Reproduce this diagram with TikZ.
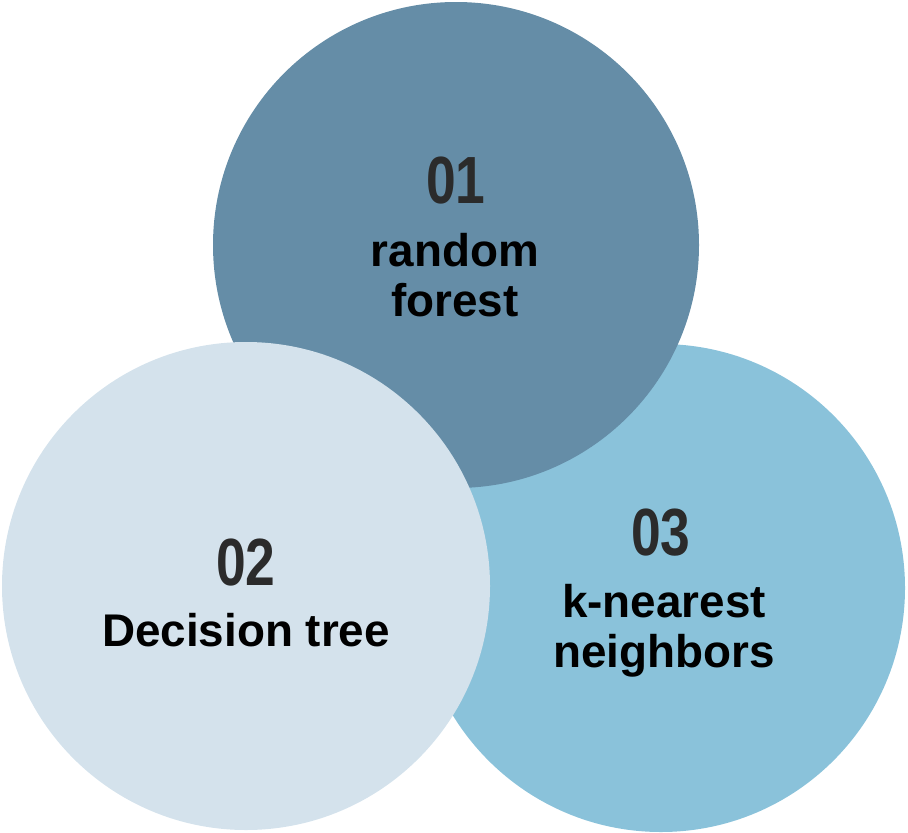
\documentclass[tikz,border=0pt]{standalone}
\usepackage{fontspec}
\usepackage{xcolor}
\setmainfont{Liberation Sans}
\newfontfamily\numfont[FakeStretch=0.8]{Liberation Sans}

\definecolor{forestblue}{HTML}{658DA7}
\definecolor{treeblue}{HTML}{D4E2EC}
\definecolor{knnblue}{HTML}{8AC2DA}
\definecolor{numgray}{HTML}{2B2B2B}

\tikzset{
  numtext/.style={anchor=base, inner sep=0pt, text=numgray,
    font=\numfont\bfseries\fontsize{67}{67}\selectfont},
  nametext/.style={anchor=base, inner sep=0pt, align=center, text=black,
    font=\bfseries\fontsize{46}{50}\selectfont}
}

\begin{document}
\begin{tikzpicture}[x=1bp,y=-1bp]
\useasboundingbox (0,0) rectangle (908,833);
% circles, back to front
\fill[knnblue] (661,588) circle (244);
\fill[forestblue] (456,245) circle (243);
\fill[treeblue] (246,586) circle (244);
% labels (base = last line)
\node[numtext] (num01) at (456,203) {01};
\node[nametext] (name01) at (455,316) {random\\forest};
\node[numtext] (num02) at (246,585) {02};
\node[nametext] (name02) at (246,646) {Decision tree};
\node[numtext] (num03) at (661,555) {03};
\node[nametext] (name03) at (664,667) {k-nearest\\neighbors};
\end{tikzpicture}
\end{document}
